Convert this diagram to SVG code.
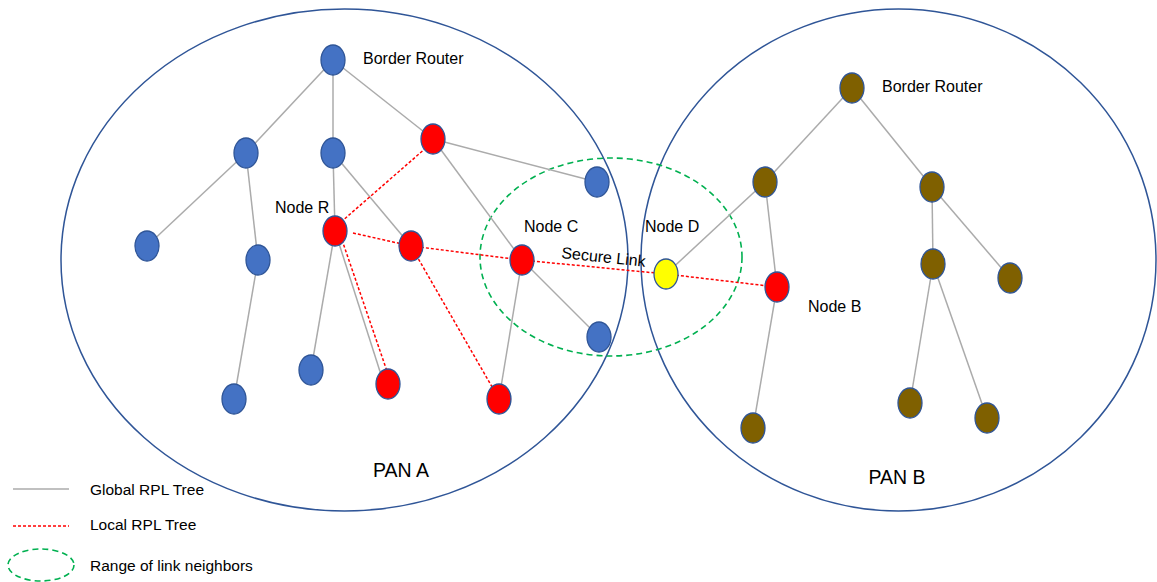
<svg xmlns="http://www.w3.org/2000/svg" width="1157" height="582" viewBox="0 0 1157 582">
<style>
.pan{fill:none;stroke:#2F5597;stroke-width:1.5}
.range{fill:none;stroke:#00B050;stroke-width:1.6;stroke-dasharray:6,4}
.g{stroke:#ABABAB;stroke-width:1.5;fill:none}
.l{stroke:#FF0000;stroke-width:1.5;stroke-dasharray:3,2;fill:none}
.n{stroke:#2F5597;stroke-width:1.3}
.blue{fill:#4472C4}
.red{fill:#FF0000}
.brown{fill:#7F6000}
.yellow{fill:#FFFF00}
text{font-family:"Liberation Sans",Arial,sans-serif;fill:#000;font-size:16px}
.big{font-size:19.5px}
.leg{font-size:15.5px}
</style>
<rect width="1157" height="582" fill="#fff"/>
<g id="panA"><ellipse class="pan" cx="344.5" cy="260" rx="283.5" ry="251"/><text class="big" x="401" y="477" text-anchor="middle">PAN A</text></g>
<g id="panB"><ellipse class="pan" cx="898.5" cy="260" rx="257.5" ry="251"/><text class="big" x="897" y="484" text-anchor="middle">PAN B</text></g>
<g id="range"><ellipse class="range" cx="611" cy="257" rx="131" ry="99"/></g>
<g id="connectors">
<line class="g" x1="333" y1="60" x2="246" y2="153"/>
<line class="g" x1="333" y1="60" x2="333" y2="153"/>
<line class="g" x1="333" y1="60" x2="433" y2="139"/>
<line class="g" x1="246" y1="153" x2="147" y2="246"/>
<line class="g" x1="246" y1="153" x2="258" y2="260"/>
<line class="g" x1="258" y1="260" x2="234" y2="399"/>
<line class="g" x1="333" y1="153" x2="335" y2="231"/>
<line class="g" x1="333" y1="153" x2="411" y2="246"/>
<line class="g" x1="433" y1="139" x2="597" y2="182"/>
<line class="g" x1="433" y1="139" x2="522" y2="260"/>
<line class="g" x1="335" y1="231" x2="311" y2="370"/>
<line class="g" x1="335" y1="231" x2="384" y2="384"/>
<line class="g" x1="522" y1="260" x2="499" y2="399"/>
<line class="g" x1="522" y1="260" x2="599" y2="337"/>
<line class="g" x1="852" y1="88" x2="765" y2="182"/>
<line class="g" x1="852" y1="88" x2="932" y2="187"/>
<line class="g" x1="765" y1="182" x2="666" y2="274"/>
<line class="g" x1="765" y1="182" x2="777" y2="287"/>
<line class="g" x1="777" y1="287" x2="753" y2="428"/>
<line class="g" x1="932" y1="187" x2="933" y2="264"/>
<line class="g" x1="932" y1="187" x2="1010" y2="278"/>
<line class="g" x1="933" y1="264" x2="910" y2="403"/>
<line class="g" x1="933" y1="264" x2="987" y2="418"/>
<line class="l" x1="341" y1="222" x2="427" y2="147"/>
<line class="l" x1="353" y1="233" x2="411" y2="246"/>
<line class="l" x1="411" y1="246" x2="522" y2="260"/>
<line class="l" x1="522" y1="260" x2="666" y2="274"/>
<line class="l" x1="666" y1="274" x2="777" y2="287"/>
<line class="l" x1="342" y1="240" x2="390" y2="380"/>
<line class="l" x1="411" y1="246" x2="499" y2="399"/>
</g>
<g id="nodes">
<ellipse id="brA" class="n blue" cx="333" cy="60" rx="12" ry="15"/>
<ellipse class="n blue" cx="246" cy="153" rx="12" ry="15"/>
<ellipse class="n blue" cx="333" cy="153" rx="12" ry="15"/>
<ellipse class="n red" cx="433" cy="139" rx="12" ry="15"/>
<ellipse class="n blue" cx="597" cy="182" rx="12" ry="15"/>
<ellipse class="n blue" cx="147" cy="246" rx="12" ry="15"/>
<ellipse class="n blue" cx="258" cy="260" rx="12" ry="15"/>
<ellipse id="nodeR" class="n red" cx="335" cy="231" rx="12" ry="15"/>
<ellipse class="n red" cx="411" cy="246" rx="12" ry="15"/>
<ellipse id="nodeC" class="n red" cx="522" cy="260" rx="12" ry="15"/>
<ellipse class="n blue" cx="311" cy="370" rx="12" ry="15"/>
<ellipse class="n blue" cx="234" cy="399" rx="12" ry="15"/>
<ellipse class="n red" cx="388" cy="384" rx="12" ry="15"/>
<ellipse class="n red" cx="499" cy="399" rx="12" ry="15"/>
<ellipse class="n blue" cx="599" cy="337" rx="12" ry="15"/>
<ellipse id="brB" class="n brown" cx="852" cy="88" rx="12" ry="15"/>
<ellipse class="n brown" cx="765" cy="182" rx="12" ry="15"/>
<ellipse class="n brown" cx="932" cy="187" rx="12" ry="15"/>
<ellipse id="nodeD" class="n yellow" cx="666" cy="274" rx="12" ry="15"/>
<ellipse id="nodeB" class="n red" cx="777" cy="287" rx="12" ry="15"/>
<ellipse class="n brown" cx="933" cy="264" rx="12" ry="15"/>
<ellipse class="n brown" cx="1010" cy="278" rx="12" ry="15"/>
<ellipse class="n brown" cx="753" cy="428" rx="12" ry="15"/>
<ellipse class="n brown" cx="910" cy="403" rx="12" ry="15"/>
<ellipse class="n brown" cx="987" cy="418" rx="12" ry="15"/>
</g>
<g id="labels">
<text x="363" y="64">Border Router</text>
<text x="882" y="92">Border Router</text>
<text x="275" y="213">Node R</text>
<text x="524" y="232">Node C</text>
<text x="645" y="232">Node D</text>
<text x="808" y="312">Node B</text>
<text transform="translate(561,258) rotate(6)">Secure Link</text>
</g>
<g id="legend">
<line class="g" x1="13" y1="489" x2="69" y2="489"/>
<text class="leg" x="90" y="495">Global RPL Tree</text>
<line class="l" x1="13" y1="526" x2="69" y2="526"/>
<text class="leg" x="90" y="530">Local RPL Tree</text>
<ellipse class="range" cx="41" cy="565" rx="33" ry="16"/>
<text class="leg" x="90" y="571">Range of link neighbors</text>
</g>
</svg>
